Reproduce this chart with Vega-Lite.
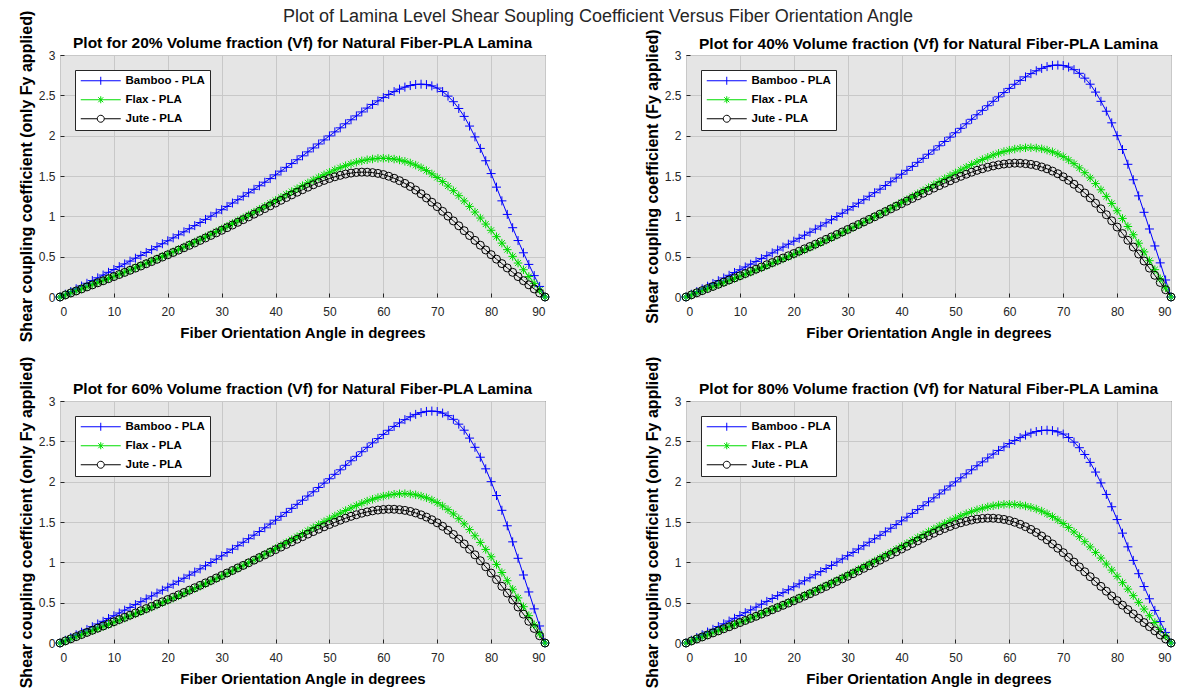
{
"$schema": "https://vega.github.io/schema/vega-lite/v6.json",
"background": "white",
"padding": {"left": 17, "top": 7, "right": 5, "bottom": 5},
"title": {"text": "Plot of Lamina Level Shear Soupling Coefficient Versus Fiber Orientation Angle", "fontSize": 18, "fontWeight": "normal", "color": "#262626", "anchor": "middle", "offset": -16},
"datasets": {
"a": [
{"deg":0,"bamboo":0,"flax":0,"jute":0},
{"deg":1,"bamboo":0.034,"flax":0.025,"jute":0.025},
{"deg":2,"bamboo":0.068,"flax":0.051,"jute":0.050},
{"deg":3,"bamboo":0.102,"flax":0.076,"jute":0.075},
{"deg":4,"bamboo":0.136,"flax":0.101,"jute":0.100},
{"deg":5,"bamboo":0.170,"flax":0.127,"jute":0.125},
{"deg":6,"bamboo":0.204,"flax":0.153,"jute":0.150},
{"deg":7,"bamboo":0.238,"flax":0.178,"jute":0.176},
{"deg":8,"bamboo":0.272,"flax":0.204,"jute":0.201},
{"deg":9,"bamboo":0.306,"flax":0.230,"jute":0.227},
{"deg":10,"bamboo":0.341,"flax":0.256,"jute":0.253},
{"deg":11,"bamboo":0.376,"flax":0.283,"jute":0.279},
{"deg":12,"bamboo":0.410,"flax":0.309,"jute":0.305},
{"deg":13,"bamboo":0.445,"flax":0.336,"jute":0.331},
{"deg":14,"bamboo":0.481,"flax":0.363,"jute":0.358},
{"deg":15,"bamboo":0.516,"flax":0.390,"jute":0.384},
{"deg":16,"bamboo":0.552,"flax":0.418,"jute":0.412},
{"deg":17,"bamboo":0.587,"flax":0.446,"jute":0.439},
{"deg":18,"bamboo":0.624,"flax":0.474,"jute":0.467},
{"deg":19,"bamboo":0.660,"flax":0.503,"jute":0.495},
{"deg":20,"bamboo":0.697,"flax":0.532,"jute":0.523},
{"deg":21,"bamboo":0.733,"flax":0.561,"jute":0.552},
{"deg":22,"bamboo":0.771,"flax":0.591,"jute":0.581},
{"deg":23,"bamboo":0.808,"flax":0.621,"jute":0.610},
{"deg":24,"bamboo":0.846,"flax":0.652,"jute":0.640},
{"deg":25,"bamboo":0.885,"flax":0.683,"jute":0.670},
{"deg":26,"bamboo":0.923,"flax":0.714,"jute":0.701},
{"deg":27,"bamboo":0.962,"flax":0.746,"jute":0.732},
{"deg":28,"bamboo":1.002,"flax":0.778,"jute":0.763},
{"deg":29,"bamboo":1.042,"flax":0.811,"jute":0.795},
{"deg":30,"bamboo":1.082,"flax":0.844,"jute":0.827},
{"deg":31,"bamboo":1.123,"flax":0.878,"jute":0.859},
{"deg":32,"bamboo":1.165,"flax":0.912,"jute":0.892},
{"deg":33,"bamboo":1.206,"flax":0.947,"jute":0.926},
{"deg":34,"bamboo":1.249,"flax":0.982,"jute":0.959},
{"deg":35,"bamboo":1.292,"flax":1.017,"jute":0.993},
{"deg":36,"bamboo":1.335,"flax":1.053,"jute":1.027},
{"deg":37,"bamboo":1.379,"flax":1.089,"jute":1.062},
{"deg":38,"bamboo":1.423,"flax":1.125,"jute":1.096},
{"deg":39,"bamboo":1.468,"flax":1.162,"jute":1.130},
{"deg":40,"bamboo":1.514,"flax":1.198,"jute":1.165},
{"deg":41,"bamboo":1.560,"flax":1.235,"jute":1.199},
{"deg":42,"bamboo":1.607,"flax":1.272,"jute":1.233},
{"deg":43,"bamboo":1.654,"flax":1.308,"jute":1.266},
{"deg":44,"bamboo":1.702,"flax":1.344,"jute":1.299},
{"deg":45,"bamboo":1.750,"flax":1.380,"jute":1.330},
{"deg":46,"bamboo":1.799,"flax":1.415,"jute":1.361},
{"deg":47,"bamboo":1.848,"flax":1.450,"jute":1.391},
{"deg":48,"bamboo":1.897,"flax":1.483,"jute":1.419},
{"deg":49,"bamboo":1.947,"flax":1.515,"jute":1.445},
{"deg":50,"bamboo":1.997,"flax":1.546,"jute":1.469},
{"deg":51,"bamboo":2.047,"flax":1.576,"jute":1.490},
{"deg":52,"bamboo":2.097,"flax":1.603,"jute":1.508},
{"deg":53,"bamboo":2.147,"flax":1.628,"jute":1.524},
{"deg":54,"bamboo":2.197,"flax":1.651,"jute":1.536},
{"deg":55,"bamboo":2.245,"flax":1.671,"jute":1.544},
{"deg":56,"bamboo":2.294,"flax":1.688,"jute":1.548},
{"deg":57,"bamboo":2.342,"flax":1.701,"jute":1.547},
{"deg":58,"bamboo":2.387,"flax":1.711,"jute":1.542},
{"deg":59,"bamboo":2.431,"flax":1.718,"jute":1.532},
{"deg":60,"bamboo":2.472,"flax":1.720,"jute":1.518},
{"deg":61,"bamboo":2.511,"flax":1.717,"jute":1.497},
{"deg":62,"bamboo":2.546,"flax":1.710,"jute":1.472},
{"deg":63,"bamboo":2.577,"flax":1.699,"jute":1.442},
{"deg":64,"bamboo":2.602,"flax":1.682,"jute":1.408},
{"deg":65,"bamboo":2.621,"flax":1.661,"jute":1.370},
{"deg":66,"bamboo":2.634,"flax":1.635,"jute":1.326},
{"deg":67,"bamboo":2.638,"flax":1.603,"jute":1.279},
{"deg":68,"bamboo":2.633,"flax":1.567,"jute":1.228},
{"deg":69,"bamboo":2.617,"flax":1.526,"jute":1.175},
{"deg":70,"bamboo":2.590,"flax":1.481,"jute":1.120},
{"deg":71,"bamboo":2.547,"flax":1.431,"jute":1.062},
{"deg":72,"bamboo":2.490,"flax":1.376,"jute":1.003},
{"deg":73,"bamboo":2.421,"flax":1.318,"jute":0.943},
{"deg":74,"bamboo":2.337,"flax":1.256,"jute":0.883},
{"deg":75,"bamboo":2.239,"flax":1.191,"jute":0.822},
{"deg":76,"bamboo":2.119,"flax":1.123,"jute":0.762},
{"deg":77,"bamboo":1.985,"flax":1.053,"jute":0.702},
{"deg":78,"bamboo":1.842,"flax":0.979,"jute":0.642},
{"deg":79,"bamboo":1.689,"flax":0.904,"jute":0.583},
{"deg":80,"bamboo":1.530,"flax":0.827,"jute":0.525},
{"deg":81,"bamboo":1.362,"flax":0.748,"jute":0.469},
{"deg":82,"bamboo":1.192,"flax":0.668,"jute":0.414},
{"deg":83,"bamboo":1.024,"flax":0.587,"jute":0.360},
{"deg":84,"bamboo":0.859,"flax":0.504,"jute":0.306},
{"deg":85,"bamboo":0.700,"flax":0.421,"jute":0.253},
{"deg":86,"bamboo":0.548,"flax":0.338,"jute":0.202},
{"deg":87,"bamboo":0.404,"flax":0.254,"jute":0.151},
{"deg":88,"bamboo":0.265,"flax":0.169,"jute":0.100},
{"deg":89,"bamboo":0.131,"flax":0.085,"jute":0.050},
{"deg":90,"bamboo":0,"flax":0,"jute":0}
],
"b": [
{"deg":0,"bamboo":0,"flax":0,"jute":0},
{"deg":1,"bamboo":0.034,"flax":0.025,"jute":0.026},
{"deg":2,"bamboo":0.067,"flax":0.051,"jute":0.052},
{"deg":3,"bamboo":0.101,"flax":0.076,"jute":0.079},
{"deg":4,"bamboo":0.134,"flax":0.101,"jute":0.105},
{"deg":5,"bamboo":0.168,"flax":0.127,"jute":0.131},
{"deg":6,"bamboo":0.202,"flax":0.152,"jute":0.158},
{"deg":7,"bamboo":0.236,"flax":0.178,"jute":0.184},
{"deg":8,"bamboo":0.269,"flax":0.204,"jute":0.211},
{"deg":9,"bamboo":0.304,"flax":0.230,"jute":0.237},
{"deg":10,"bamboo":0.338,"flax":0.256,"jute":0.264},
{"deg":11,"bamboo":0.372,"flax":0.282,"jute":0.291},
{"deg":12,"bamboo":0.407,"flax":0.308,"jute":0.318},
{"deg":13,"bamboo":0.441,"flax":0.335,"jute":0.345},
{"deg":14,"bamboo":0.476,"flax":0.361,"jute":0.372},
{"deg":15,"bamboo":0.512,"flax":0.388,"jute":0.400},
{"deg":16,"bamboo":0.547,"flax":0.416,"jute":0.427},
{"deg":17,"bamboo":0.583,"flax":0.443,"jute":0.455},
{"deg":18,"bamboo":0.619,"flax":0.471,"jute":0.483},
{"deg":19,"bamboo":0.655,"flax":0.499,"jute":0.511},
{"deg":20,"bamboo":0.692,"flax":0.527,"jute":0.539},
{"deg":21,"bamboo":0.728,"flax":0.555,"jute":0.568},
{"deg":22,"bamboo":0.766,"flax":0.584,"jute":0.597},
{"deg":23,"bamboo":0.803,"flax":0.613,"jute":0.626},
{"deg":24,"bamboo":0.842,"flax":0.643,"jute":0.655},
{"deg":25,"bamboo":0.880,"flax":0.673,"jute":0.685},
{"deg":26,"bamboo":0.919,"flax":0.703,"jute":0.715},
{"deg":27,"bamboo":0.958,"flax":0.734,"jute":0.745},
{"deg":28,"bamboo":0.998,"flax":0.765,"jute":0.775},
{"deg":29,"bamboo":1.039,"flax":0.797,"jute":0.806},
{"deg":30,"bamboo":1.080,"flax":0.829,"jute":0.837},
{"deg":31,"bamboo":1.121,"flax":0.861,"jute":0.868},
{"deg":32,"bamboo":1.163,"flax":0.894,"jute":0.899},
{"deg":33,"bamboo":1.206,"flax":0.927,"jute":0.931},
{"deg":34,"bamboo":1.249,"flax":0.961,"jute":0.962},
{"deg":35,"bamboo":1.293,"flax":0.995,"jute":0.994},
{"deg":36,"bamboo":1.337,"flax":1.030,"jute":1.027},
{"deg":37,"bamboo":1.382,"flax":1.065,"jute":1.059},
{"deg":38,"bamboo":1.428,"flax":1.100,"jute":1.092},
{"deg":39,"bamboo":1.475,"flax":1.136,"jute":1.124},
{"deg":40,"bamboo":1.522,"flax":1.172,"jute":1.157},
{"deg":41,"bamboo":1.570,"flax":1.208,"jute":1.189},
{"deg":42,"bamboo":1.619,"flax":1.245,"jute":1.222},
{"deg":43,"bamboo":1.669,"flax":1.282,"jute":1.254},
{"deg":44,"bamboo":1.719,"flax":1.319,"jute":1.286},
{"deg":45,"bamboo":1.770,"flax":1.356,"jute":1.318},
{"deg":46,"bamboo":1.822,"flax":1.393,"jute":1.350},
{"deg":47,"bamboo":1.875,"flax":1.430,"jute":1.381},
{"deg":48,"bamboo":1.928,"flax":1.467,"jute":1.411},
{"deg":49,"bamboo":1.982,"flax":1.504,"jute":1.440},
{"deg":50,"bamboo":2.036,"flax":1.539,"jute":1.469},
{"deg":51,"bamboo":2.091,"flax":1.575,"jute":1.496},
{"deg":52,"bamboo":2.147,"flax":1.609,"jute":1.522},
{"deg":53,"bamboo":2.203,"flax":1.642,"jute":1.547},
{"deg":54,"bamboo":2.259,"flax":1.674,"jute":1.570},
{"deg":55,"bamboo":2.314,"flax":1.704,"jute":1.590},
{"deg":56,"bamboo":2.371,"flax":1.732,"jute":1.609},
{"deg":57,"bamboo":2.426,"flax":1.759,"jute":1.625},
{"deg":58,"bamboo":2.481,"flax":1.782,"jute":1.638},
{"deg":59,"bamboo":2.534,"flax":1.803,"jute":1.648},
{"deg":60,"bamboo":2.586,"flax":1.820,"jute":1.655},
{"deg":61,"bamboo":2.637,"flax":1.834,"jute":1.659},
{"deg":62,"bamboo":2.685,"flax":1.844,"jute":1.658},
{"deg":63,"bamboo":2.729,"flax":1.850,"jute":1.653},
{"deg":64,"bamboo":2.769,"flax":1.851,"jute":1.644},
{"deg":65,"bamboo":2.804,"flax":1.847,"jute":1.631},
{"deg":66,"bamboo":2.834,"flax":1.837,"jute":1.612},
{"deg":67,"bamboo":2.856,"flax":1.821,"jute":1.589},
{"deg":68,"bamboo":2.871,"flax":1.800,"jute":1.561},
{"deg":69,"bamboo":2.875,"flax":1.773,"jute":1.528},
{"deg":70,"bamboo":2.869,"flax":1.740,"jute":1.490},
{"deg":71,"bamboo":2.850,"flax":1.699,"jute":1.447},
{"deg":72,"bamboo":2.818,"flax":1.653,"jute":1.398},
{"deg":73,"bamboo":2.773,"flax":1.600,"jute":1.346},
{"deg":74,"bamboo":2.713,"flax":1.541,"jute":1.289},
{"deg":75,"bamboo":2.638,"flax":1.477,"jute":1.228},
{"deg":76,"bamboo":2.540,"flax":1.406,"jute":1.162},
{"deg":77,"bamboo":2.426,"flax":1.329,"jute":1.093},
{"deg":78,"bamboo":2.303,"flax":1.247,"jute":1.020},
{"deg":79,"bamboo":2.159,"flax":1.160,"jute":0.945},
{"deg":80,"bamboo":2.000,"flax":1.069,"jute":0.867},
{"deg":81,"bamboo":1.828,"flax":0.974,"jute":0.786},
{"deg":82,"bamboo":1.645,"flax":0.874,"jute":0.703},
{"deg":83,"bamboo":1.453,"flax":0.772,"jute":0.619},
{"deg":84,"bamboo":1.254,"flax":0.667,"jute":0.533},
{"deg":85,"bamboo":1.050,"flax":0.559,"jute":0.446},
{"deg":86,"bamboo":0.843,"flax":0.450,"jute":0.358},
{"deg":87,"bamboo":0.633,"flax":0.339,"jute":0.269},
{"deg":88,"bamboo":0.423,"flax":0.227,"jute":0.180},
{"deg":89,"bamboo":0.211,"flax":0.114,"jute":0.090},
{"deg":90,"bamboo":0,"flax":0,"jute":0}
]
},
"config": {
"font": "Liberation Sans",
"view": {"fill": "#e5e5e5", "stroke": "#262626", "strokeWidth": 1},
"axis": {"grid": true, "gridColor": "#c8c8c8", "gridOpacity": 1, "domain": false, "ticks": true, "tickColor": "#262626", "tickSize": -4, "labelFont": "Liberation Sans", "labelFontSize": 12, "labelColor": "#262626", "titleFont": "Liberation Sans", "titleFontSize": 15, "titleFontWeight": "bold", "titleColor": "#000000"},
"axisX": {"labelPadding": 13, "titlePadding": 8},
"axisY": {"labelPadding": 9, "titlePadding": 4, "titleFontSize": 16},
"title": {"font": "Liberation Sans"},
"legend": {"title": null, "orient": "top-left", "offset": 15, "fillColor": "#ffffff", "strokeColor": "#262626", "padding": 5, "symbolSize": 100, "symbolStrokeWidth": 1, "labelFont": "Liberation Sans", "labelFontSize": 11.5, "labelFontWeight": "bold", "labelColor": "#000000", "labelOffset": 34, "rowPadding": 6}
},
"bounds": "flush",
"columns": 2,
"spacing": {"row": 104, "column": 141},
"resolve": {"scale": {"color": "independent"}, "legend": {"color": "independent"}},
"concat": [
{
"width": 485, "height": 242,
"title": {"text": "Plot for 20% Volume fraction (Vf) for Natural Fiber-PLA Lamina", "fontSize": 15.5, "fontWeight": "bold", "color": "#000000", "offset": -41.5},
"data": {"name": "a"},
"transform": [{"fold": ["bamboo", "flax", "jute"], "as": ["fiber", "coef"]}],
"encoding": {
"x": {"field": "deg", "type": "quantitative", "scale": {"domain": [0, 90], "nice": false}, "axis": {"values": [0,10,20,30,40,50,60,70,80,90], "title": "Fiber Orientation Angle in degrees"}},
"y": {"field": "coef", "type": "quantitative", "scale": {"domain": [0, 3], "nice": false}, "axis": {"values": [0,0.5,1,1.5,2,2.5,3], "format": "~g", "title": "Shear coupling coefficient (only Fy applied)"}},
"color": {"field": "fiber", "type": "nominal", "scale": {"domain": ["bamboo", "flax", "jute"], "range": ["#0000ff", "#00dd00", "#000000"]},
"legend": {"labelExpr": "datum.value == 'bamboo' ? 'Bamboo - PLA' : datum.value == 'flax' ? 'Flax - PLA' : 'Jute - PLA'",
"encode": {"symbols": {"update": {"fill": {"value": "transparent"}, "shape": {"signal": "datum.value == 'bamboo' ? 'M-1,0H7M3,-0.8V0.8' : datum.value == 'flax' ? 'M-1,0H7M3,-0.7V0.7M2.5,-0.5L3.5,0.5M2.5,0.5L3.5,-0.5' : 'M-1,0H2.3M3.7,0H7M3.7,0A0.7,0.7 0 1,1 2.3,0A0.7,0.7 0 1,1 3.7,0'"}}}}}}
},
"layer": [
{"mark": {"type": "line", "strokeWidth": 1}},
{"mark": {"type": "point", "filled": false, "strokeWidth": 1, "opacity": 1},
"encoding": {
"shape": {"field": "fiber", "type": "nominal", "scale": {"domain": ["bamboo", "flax", "jute"], "range": ["M-1,0H1M0,-1V1", "M-1,0H1M0,-1V1M-0.7,-0.7L0.7,0.7M-0.7,0.7L0.7,-0.7", "circle"]}, "legend": null},
"size": {"field": "fiber", "type": "nominal", "scale": {"domain": ["bamboo", "flax", "jute"], "range": [81, 64, 50]}, "legend": null},
"order": {"field": "fiber", "type": "nominal"}
}}
]
},
{
"width": 485, "height": 242,
"title": {"text": "Plot for 40% Volume fraction (Vf) for Natural Fiber-PLA Lamina", "fontSize": 15.5, "fontWeight": "bold", "color": "#000000", "offset": -24},
"data": {"name": "b"},
"transform": [{"fold": ["bamboo", "flax", "jute"], "as": ["fiber", "coef"]}],
"encoding": {
"x": {"field": "deg", "type": "quantitative", "scale": {"domain": [0, 90], "nice": false}, "axis": {"values": [0,10,20,30,40,50,60,70,80,90], "title": "Fiber Orientation Angle in degrees"}},
"y": {"field": "coef", "type": "quantitative", "scale": {"domain": [0, 3], "nice": false}, "axis": {"values": [0,0.5,1,1.5,2,2.5,3], "format": "~g", "title": "Shear coupling coefficient (Fy applied)"}},
"color": {"field": "fiber", "type": "nominal", "scale": {"domain": ["bamboo", "flax", "jute"], "range": ["#0000ff", "#00dd00", "#000000"]},
"legend": {"labelExpr": "datum.value == 'bamboo' ? 'Bamboo - PLA' : datum.value == 'flax' ? 'Flax - PLA' : 'Jute - PLA'",
"encode": {"symbols": {"update": {"fill": {"value": "transparent"}, "shape": {"signal": "datum.value == 'bamboo' ? 'M-1,0H7M3,-0.8V0.8' : datum.value == 'flax' ? 'M-1,0H7M3,-0.7V0.7M2.5,-0.5L3.5,0.5M2.5,0.5L3.5,-0.5' : 'M-1,0H2.3M3.7,0H7M3.7,0A0.7,0.7 0 1,1 2.3,0A0.7,0.7 0 1,1 3.7,0'"}}}}}}
},
"layer": [
{"mark": {"type": "line", "strokeWidth": 1}},
{"mark": {"type": "point", "filled": false, "strokeWidth": 1, "opacity": 1},
"encoding": {
"shape": {"field": "fiber", "type": "nominal", "scale": {"domain": ["bamboo", "flax", "jute"], "range": ["M-1,0H1M0,-1V1", "M-1,0H1M0,-1V1M-0.7,-0.7L0.7,0.7M-0.7,0.7L0.7,-0.7", "circle"]}, "legend": null},
"size": {"field": "fiber", "type": "nominal", "scale": {"domain": ["bamboo", "flax", "jute"], "range": [81, 64, 50]}, "legend": null},
"order": {"field": "fiber", "type": "nominal"}
}}
]
},
{
"width": 485, "height": 242,
"title": {"text": "Plot for 60% Volume fraction (Vf) for Natural Fiber-PLA Lamina", "fontSize": 15.5, "fontWeight": "bold", "color": "#000000", "offset": -41.5},
"data": {"name": "b"},
"transform": [{"fold": ["bamboo", "flax", "jute"], "as": ["fiber", "coef"]}],
"encoding": {
"x": {"field": "deg", "type": "quantitative", "scale": {"domain": [0, 90], "nice": false}, "axis": {"values": [0,10,20,30,40,50,60,70,80,90], "title": "Fiber Orientation Angle in degrees"}},
"y": {"field": "coef", "type": "quantitative", "scale": {"domain": [0, 3], "nice": false}, "axis": {"values": [0,0.5,1,1.5,2,2.5,3], "format": "~g", "title": "Shear coupling coefficient (only Fy applied)"}},
"color": {"field": "fiber", "type": "nominal", "scale": {"domain": ["bamboo", "flax", "jute"], "range": ["#0000ff", "#00dd00", "#000000"]},
"legend": {"labelExpr": "datum.value == 'bamboo' ? 'Bamboo - PLA' : datum.value == 'flax' ? 'Flax - PLA' : 'Jute - PLA'",
"encode": {"symbols": {"update": {"fill": {"value": "transparent"}, "shape": {"signal": "datum.value == 'bamboo' ? 'M-1,0H7M3,-0.8V0.8' : datum.value == 'flax' ? 'M-1,0H7M3,-0.7V0.7M2.5,-0.5L3.5,0.5M2.5,0.5L3.5,-0.5' : 'M-1,0H2.3M3.7,0H7M3.7,0A0.7,0.7 0 1,1 2.3,0A0.7,0.7 0 1,1 3.7,0'"}}}}}}
},
"layer": [
{"mark": {"type": "line", "strokeWidth": 1}},
{"mark": {"type": "point", "filled": false, "strokeWidth": 1, "opacity": 1},
"encoding": {
"shape": {"field": "fiber", "type": "nominal", "scale": {"domain": ["bamboo", "flax", "jute"], "range": ["M-1,0H1M0,-1V1", "M-1,0H1M0,-1V1M-0.7,-0.7L0.7,0.7M-0.7,0.7L0.7,-0.7", "circle"]}, "legend": null},
"size": {"field": "fiber", "type": "nominal", "scale": {"domain": ["bamboo", "flax", "jute"], "range": [81, 64, 50]}, "legend": null},
"order": {"field": "fiber", "type": "nominal"}
}}
]
},
{
"width": 485, "height": 242,
"title": {"text": "Plot for 80% Volume fraction (Vf) for Natural Fiber-PLA Lamina", "fontSize": 15.5, "fontWeight": "bold", "color": "#000000", "offset": -41.5},
"data": {"name": "a"},
"transform": [{"fold": ["bamboo", "flax", "jute"], "as": ["fiber", "coef"]}],
"encoding": {
"x": {"field": "deg", "type": "quantitative", "scale": {"domain": [0, 90], "nice": false}, "axis": {"values": [0,10,20,30,40,50,60,70,80,90], "title": "Fiber Orientation Angle in degrees"}},
"y": {"field": "coef", "type": "quantitative", "scale": {"domain": [0, 3], "nice": false}, "axis": {"values": [0,0.5,1,1.5,2,2.5,3], "format": "~g", "title": "Shear coupling coefficient (only Fy applied)"}},
"color": {"field": "fiber", "type": "nominal", "scale": {"domain": ["bamboo", "flax", "jute"], "range": ["#0000ff", "#00dd00", "#000000"]},
"legend": {"labelExpr": "datum.value == 'bamboo' ? 'Bamboo - PLA' : datum.value == 'flax' ? 'Flax - PLA' : 'Jute - PLA'",
"encode": {"symbols": {"update": {"fill": {"value": "transparent"}, "shape": {"signal": "datum.value == 'bamboo' ? 'M-1,0H7M3,-0.8V0.8' : datum.value == 'flax' ? 'M-1,0H7M3,-0.7V0.7M2.5,-0.5L3.5,0.5M2.5,0.5L3.5,-0.5' : 'M-1,0H2.3M3.7,0H7M3.7,0A0.7,0.7 0 1,1 2.3,0A0.7,0.7 0 1,1 3.7,0'"}}}}}}
},
"layer": [
{"mark": {"type": "line", "strokeWidth": 1}},
{"mark": {"type": "point", "filled": false, "strokeWidth": 1, "opacity": 1},
"encoding": {
"shape": {"field": "fiber", "type": "nominal", "scale": {"domain": ["bamboo", "flax", "jute"], "range": ["M-1,0H1M0,-1V1", "M-1,0H1M0,-1V1M-0.7,-0.7L0.7,0.7M-0.7,0.7L0.7,-0.7", "circle"]}, "legend": null},
"size": {"field": "fiber", "type": "nominal", "scale": {"domain": ["bamboo", "flax", "jute"], "range": [81, 64, 50]}, "legend": null},
"order": {"field": "fiber", "type": "nominal"}
}}
]
}
]
}
